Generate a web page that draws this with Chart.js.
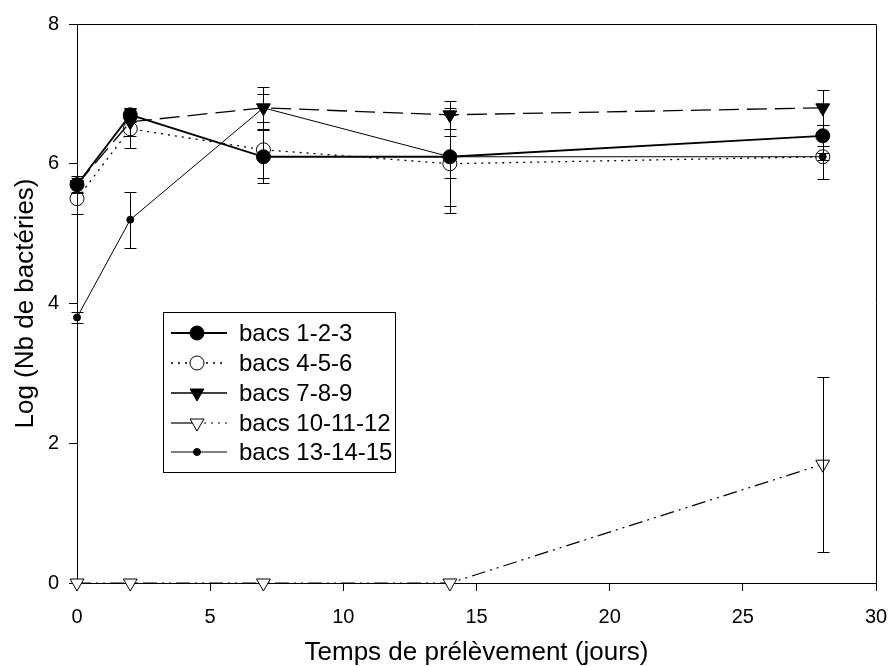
<!DOCTYPE html>
<html>
<head>
<meta charset="utf-8">
<script src="https://cdn.jsdelivr.net/npm/chart.js@4"></script>
<style>
  html, body { margin: 0; padding: 0; background: #fff; }
  #wrap { width: 891px; height: 666px; }
</style>
</head>
<body>
<div id="wrap"><canvas id="chart" width="891" height="666"></canvas></div>
<script>
const days = [0, 2, 7, 14, 28];
const labels = ['bacs 1-2-3', 'bacs 4-5-6', 'bacs 7-8-9', 'bacs 10-11-12', 'bacs 13-14-15'];

const bacs123 = [5.7, 6.7, 6.1, 6.1, 6.4];
const err123 = [0.12, 0.1, 0.38, 0.3, 0.15];
const bacs456 = [5.5, 6.5, 6.2, 6.0, 6.1];
const err456 = [0.22, 0.28, 0.4, 0.7, 0.32];
const bacs789 = [5.7, 6.6, 6.8, 6.7, 6.8];
const err789 = [0.1, 0.2, 0.3, 0.2, 0.25];
const bacs101112 = [0, 0, 0, 0, 1.7];
const err101112 = [0, 0, 0, 0, 1.25];
const bacs131415 = [3.8, 5.2, 6.8, 6.1, 6.1];
const err131415 = [0.08, 0.4, 0.2, 0.7, 0.05];

const FONT = "'Liberation Sans', Arial, sans-serif";

function pts(vals) {
    return vals.map((v, i) => ({ x: days[i], y: v }));
}

const styles = [
    { pointStyle: 'circle', radius: 7, rotation: 0, fill: '#000', dash: [], width: 1.8 },
    { pointStyle: 'circle', radius: 7, rotation: 0, fill: '#fff', dash: [2, 5], width: 1.3 },
    { pointStyle: 'triangle', radius: 8, rotation: 180, fill: '#000', dash: [20, 8], width: 1.3 },
    { pointStyle: 'triangle', radius: 8, rotation: 180, fill: '#fff', dash: [14, 5, 2, 5, 2, 5], width: 1.2 },
    { pointStyle: 'circle', radius: 3.5, rotation: 0, fill: '#000', dash: [], width: 1 }
];
const series = [bacs123, bacs456, bacs789, bacs101112, bacs131415];
const errors = [err123, err456, err789, err101112, err131415];
const orders = [1, 3, 2, 4, 0];

const datasets = series.map((s, i) => ({
    label: labels[i],
    data: pts(s),
    borderColor: '#000',
    borderWidth: styles[i].width,
    borderDash: styles[i].dash,
    backgroundColor: styles[i].fill,
    pointStyle: styles[i].pointStyle,
    pointRotation: styles[i].rotation,
    pointRadius: styles[i].radius,
    pointBackgroundColor: styles[i].fill,
    pointBorderColor: '#000',
    pointBorderWidth: 1,
    tension: 0,
    clip: false,
    order: orders[i]
}));

const errorBars = {
    id: 'errorBars',
    afterDatasetsDraw(chart) {
        const ctx = chart.ctx;
        const xs = chart.scales.x, ys = chart.scales.y;
        ctx.save();
        ctx.strokeStyle = '#000';
        ctx.lineWidth = 1;
        ctx.setLineDash([]);
        errors.forEach((errs, i) => {
            errs.forEach((e, j) => {
                if (!e) return;
                const x = Math.round(xs.getPixelForValue(days[j])) + 0.5;
                const y1 = Math.round(ys.getPixelForValue(series[i][j] + e)) + 0.5;
                const y2 = Math.round(ys.getPixelForValue(series[i][j] - e)) + 0.5;
                ctx.beginPath();
                ctx.moveTo(x, y1); ctx.lineTo(x, y2);
                ctx.moveTo(x - 6, y1); ctx.lineTo(x + 6, y1);
                ctx.moveTo(x - 6, y2); ctx.lineTo(x + 6, y2);
                ctx.stroke();
            });
        });
        ctx.restore();
    }
};

const frameAndLegend = {
    id: 'frameAndLegend',
    afterDraw(chart) {
        const ctx = chart.ctx;
        const a = chart.chartArea;
        ctx.save();
        ctx.strokeStyle = '#000';
        ctx.lineWidth = 1;
        ctx.setLineDash([]);
        ctx.beginPath();
        ctx.moveTo(a.left, Math.round(a.top) + 0.5);
        ctx.lineTo(Math.round(a.right) + 0.5, Math.round(a.top) + 0.5);
        ctx.lineTo(Math.round(a.right) + 0.5, a.bottom);
        ctx.stroke();

        // legend box
        ctx.fillStyle = '#fff';
        ctx.fillRect(163, 312, 232, 160);
        ctx.strokeRect(163.5, 312.5, 232, 160);
        const rows = [333, 363, 393, 423, 452];
        rows.forEach((y, i) => {
            const st = styles[i];
            ctx.lineWidth = st.width;
            ctx.strokeStyle = '#000';
            if (i === 3) {
                ctx.setLineDash([]);
                ctx.beginPath(); ctx.moveTo(171, y); ctx.lineTo(197, y); ctx.stroke();
                ctx.setLineDash([2, 5]);
                ctx.beginPath(); ctx.moveTo(197, y); ctx.lineTo(227, y); ctx.stroke();
            } else {
                ctx.setLineDash(i === 1 ? [2, 5] : []);
                ctx.beginPath(); ctx.moveTo(171, y); ctx.lineTo(227, y); ctx.stroke();
            }
            ctx.setLineDash([]);
            ctx.lineWidth = 1;
            ctx.fillStyle = st.fill;
            Chart.helpers.drawPoint(ctx, { pointStyle: st.pointStyle, radius: st.radius, rotation: st.rotation, borderWidth: 1 }, 197, y);
            ctx.fillStyle = '#000';
            ctx.font = '24px ' + FONT;
            ctx.textBaseline = 'middle';
            ctx.textAlign = 'left';
            ctx.fillText(labels[i], 239, y + 1);
        });
        ctx.restore();
    }
};

new Chart(document.getElementById('chart'), {
    type: 'line',
    data: { datasets: datasets },
    options: {
        responsive: false,
        animation: false,
        devicePixelRatio: 1,
        layout: { padding: { left: 0, top: 24, right: 15, bottom: 0 } },
        plugins: {
            legend: { display: false },
            tooltip: { enabled: false }
        },
        scales: {
            x: {
                type: 'linear',
                min: 0,
                max: 30,
                ticks: { stepSize: 5, color: '#000', font: { family: FONT, size: 20 }, padding: 14, maxRotation: 0 },
                grid: { drawOnChartArea: false, drawTicks: true, tickLength: 8, color: '#000' },
                border: { display: true, color: '#000', width: 1 },
                title: { display: true, text: 'Temps de prélèvement (jours)', color: '#000', font: { family: FONT, size: 26, lineHeight: 1.0 }, padding: { top: 0, bottom: 0 } },
                afterFit(scale) { scale.height = 83; scale.paddingLeft = 0; scale.paddingRight = 0; }
            },
            y: {
                min: 0,
                max: 8,
                ticks: { stepSize: 2, color: '#000', font: { family: FONT, size: 20 }, padding: 10 },
                grid: { drawOnChartArea: false, drawTicks: true, tickLength: 8, color: '#000' },
                border: { display: true, color: '#000', width: 1 },
                title: { display: true, text: 'Log (Nb de bactéries)', color: '#000', font: { family: FONT, size: 26 }, padding: { top: 10, bottom: 0 } },
                afterFit(scale) { scale.width = 77; scale.paddingTop = 0; scale.paddingBottom = 0; }
            }
        }
    },
    plugins: [errorBars, frameAndLegend]
});
</script>
</body>
</html>
